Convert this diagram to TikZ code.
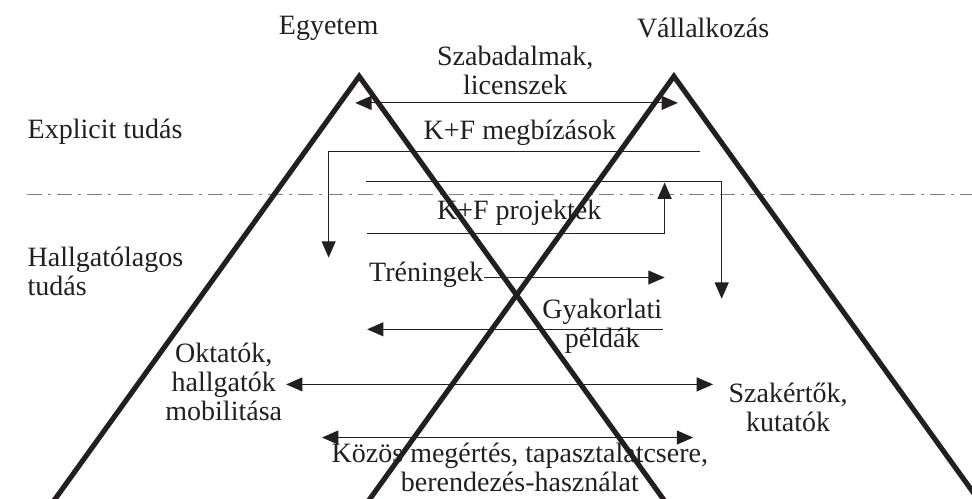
\documentclass[tikz,border=0pt]{standalone}
\usepackage{fontspec}
\setmainfont{Liberation Serif}
\usepackage{xcolor}
\usepackage{tikz}
\usetikzlibrary{arrows.meta}
\definecolor{ink}{HTML}{231F20}

\begin{document}
\begin{tikzpicture}[>={Triangle[length=7pt,width=6pt]}, color=ink,
  every node/.style={inner sep=0pt, align=center,
  font=\fontsize{12}{12.5}\selectfont},
  flow/.style={line width=0.5pt},
  leg/.style={line width=2.2pt, line join=miter},
  border/.style={gray, line width=0.5pt,
  dash pattern=on 6.4pt off 2.6pt on 1.3pt off 2.6pt}]
  \useasboundingbox (0,0) rectangle (14.64,7.51);
  \node (egyetem) at (4.95,7.09) {Egyetem};
  \node (vallalkozas) at (10.59,7.09) {Vállalkozás};
  \node (szabadalom) at (7.76,6.45) {Szabadalmak,\\licenszek};
  \node (megbizas) at (7.83,5.51) {K+F megbízások};
  \node (projekt) at (7.82,4.31) {K+F projektek};
  \node[anchor=west] (explicit) at (0.41,5.53) {Explicit tudás};
  \node[anchor=west, align=left] (hallgato) at (0.41,3.42) {Hallgatólagos\\tudás};
  \node (trening) at (6.42,3.37) {Tréningek};
  \node (gyakorlat) at (9.07,2.59) {Gyakorlati\\példák};
  \node (oktato) at (3.37,1.76) {Oktatók,\\hallgatók\\mobilitása};
  \node (szakerto) at (11.87,1.37) {Szakértők,\\kutatók};
  \node (kozos) at (7.83,0.47) {Közös megértés, tapasztalatcsere,\\berendezés-használat};
  \coordinate (sz1) at (5.35,5.96);
  \coordinate (sz2) at (10.21,5.96);
  \coordinate (mb1) at (10.54,5.23);
  \coordinate (mb2) at (4.95,5.23);
  \coordinate (mb3) at (4.95,3.63);
  \coordinate (pr1) at (5.51,4.77);
  \coordinate (pr2) at (10.87,4.77);
  \coordinate (pr3) at (10.87,3.01);
  \coordinate (pr4) at (5.53,3.99);
  \coordinate (pr5) at (10.01,3.99);
  \coordinate (pr6) at (10.01,4.76);
  \coordinate (tr1) at (10.01,3.33);
  \coordinate (gy1) at (9.98,2.55);
  \coordinate (gy2) at (5.53,2.55);
  \coordinate (ok1) at (4.31,1.72);
  \coordinate (ok2) at (10.74,1.72);
  \coordinate (ko1) at (4.85,0.92);
  \coordinate (ko2) at (10.44,0.92);
  \coordinate (bd1) at (0.41,4.58);
  \coordinate (bd2) at (14.64,4.58);
  \draw[border] (bd1) -- (bd2);
  \draw[flow, <->] (sz1) -- (sz2);
  \draw[flow, ->] (mb1) -- (mb2) -- (mb3);
  \draw[flow, ->] (pr1) -- (pr2) -- (pr3);
  \draw[flow, ->] (pr4) -- (pr5) -- (pr6);
  \draw[flow, ->] (trening.east |- tr1) -- (tr1);
  \draw[flow, ->] (gy1) -- (gy2);
  \draw[flow, <->] (ok1) -- (ok2);
  \draw[flow, <->] (ko1) -- (ko2);
  \coordinate (egycsucs) at (5.41,6.36);
  \coordinate (valcsucs) at (10.15,6.36);
  \begin{scope}
    \clip (0,0) rectangle (14.64,7.51);
    \draw[leg] (0.77,-0.09) -- (egycsucs) -- (10.05,-0.09);
    \draw[leg] (5.51,-0.09) -- (valcsucs) -- (14.79,-0.09);
  \end{scope}
\end{tikzpicture}
\end{document}
